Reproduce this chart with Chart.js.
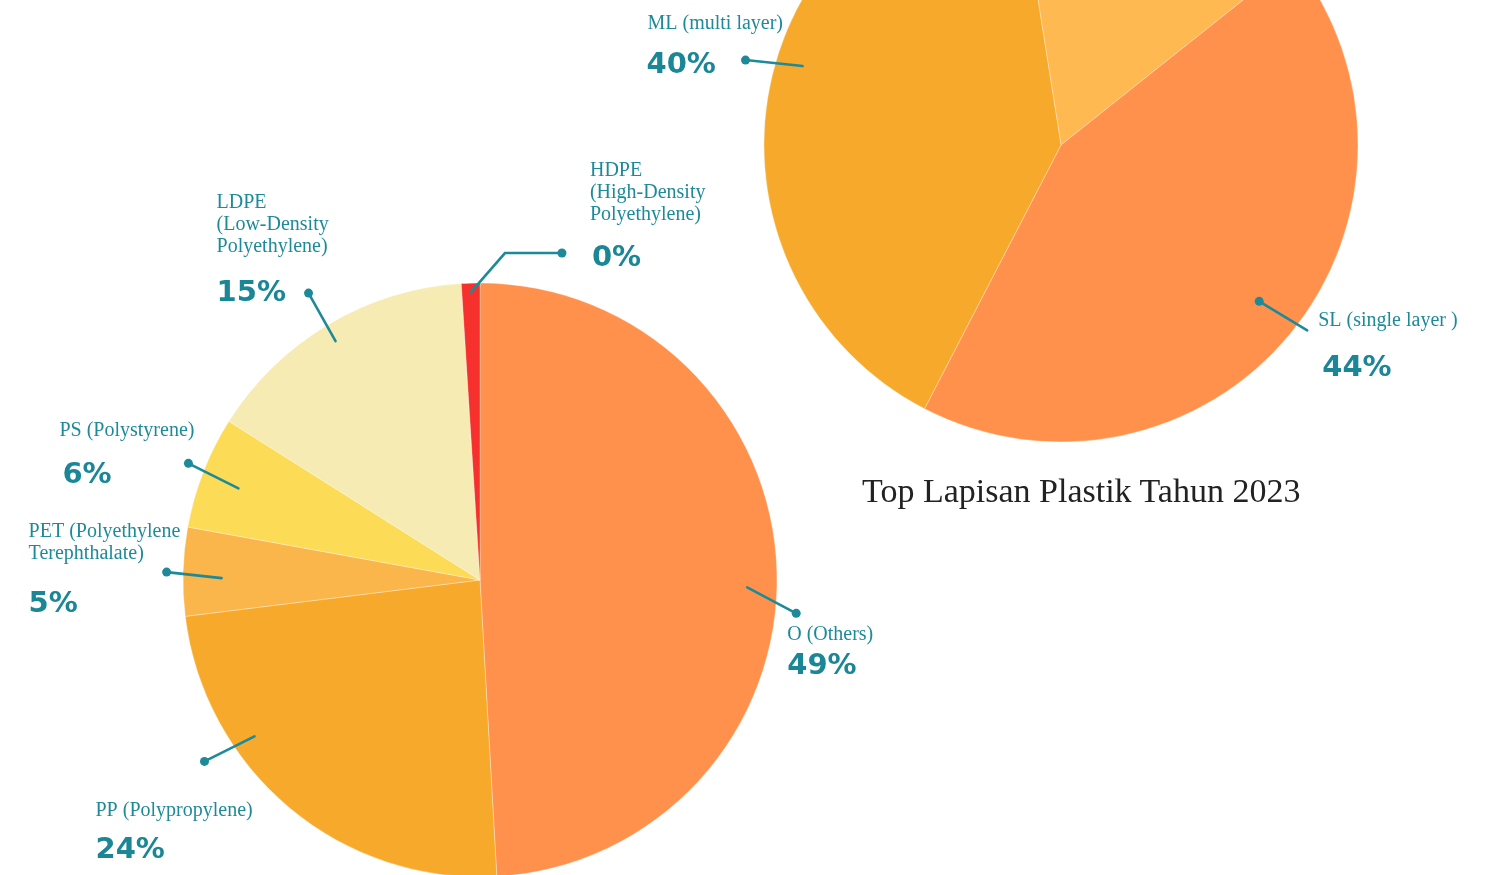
<!DOCTYPE html>
<html>
<head>
<meta charset="utf-8">
<script src="https://cdn.jsdelivr.net/npm/chart.js@4.4.1/dist/chart.umd.min.js"></script>
<style>
  html, body { margin: 0; padding: 0; background: #fff; overflow: hidden; width: 1488px; height: 875px; }
  .wrap { position: absolute; left: 0; width: 1488px; }
  #wrapPlastic { top: 0; height: 1160px; }
  #wrapLayer { top: -300px; height: 890px; }
  .title {
    position: absolute; left: 862px; top: 471px;
    font-family: 'Liberation Serif', serif; font-size: 34px; color: #222;
    white-space: nowrap; line-height: 40px;
  }
</style>
</head>
<body>
<div class="wrap" id="wrapPlastic"><canvas id="plasticChart"></canvas></div>
<div class="wrap" id="wrapLayer"><canvas id="layerChart"></canvas></div>
<div class="title">Top Lapisan Plastik Tahun 2023</div>

<script>
// data - jenis plastik
const plasticLabels = ['O (Others)', 'PP (Polypropylene)', 'PET (Polyethylene Terephthalate)', 'PS (Polystyrene)', 'LDPE (Low-Density Polyethylene)', 'HDPE (High-Density Polyethylene)'];
const plasticShare = [49.0, 23.9, 4.8, 6.1, 15.0, 1.0];
const plasticPctText = ['49%', '24%', '5%', '6%', '15%', '0%'];
const plasticColors = ['#FF914D', '#F6A92B', '#FBB64B', '#FCDB56', '#F6EBB2', '#F5302D'];

// data - lapisan plastik
const layerLabels = ['Lainnya', 'SL (single layer )', 'ML (multi layer)'];
const layerShare = [16.8, 43.3, 39.9];
const layerPctText = ['', '44%', '40%'];
const layerColors = ['#FFB950', '#FF914D', '#F6A92B'];

const TEAL = '#1E8A99';

// callout layout (offsets in px, angles in degrees relative to slice middle)
const plasticCallouts = [
  { i: 0, angOff: 3.2, rf: 0.90, dot: [49, 26], lines: ['O (Others)'], name: [-9, 27], pct: [-9, 61] },
  { i: 1, angOff: 15.4, rf: 0.924, dot: [-50, 25], lines: ['PP (Polypropylene)'], name: [-109, 55], pct: [-109, 97] },
  { i: 2, angOff: -1.2, rf: 0.87, dot: [-55, -6], lines: ['PET (Polyethylene', 'Terephthalate)'], name: [-138, -35], pct: [-138, 40] },
  { i: 3, angOff: -0.5, rf: 0.87, dot: [-50, -25], lines: ['PS (Polystyrene)'], name: [-129, -27], pct: [-126, 20] },
  { i: 4, angOff: -0.5, rf: 0.94, dot: [-27, -48], lines: ['LDPE', '(Low-Density', 'Polyethylene)'], name: [-92, -85], pct: [-92, 8] },
  { i: 5, angOff: 0, rf: 0.97, elbow: [34, -39], dot: [91, -39], lines: ['HDPE', '(High-Density', 'Polyethylene)'], name: [28, -77], pct: [30, 13] }
];

const layerCallouts = [
  { i: 2, angOff: 7.8, rf: 0.91, dot: [-57, -6], lines: ['ML (multi layer)'], name: [-98, -31], pct: [-99, 13] },
  { i: 1, angOff: -1.15, rf: 0.85, dot: [48, 29], dotAtAnchor: true, lines: ['SL (single layer )'], name: [11, -4], pct: [15, 46] }
];

const calloutPlugin = {
  id: 'callouts',
  afterDraw(chart, args, opts) {
    const ctx = chart.ctx;
    const meta = chart.getDatasetMeta(0);
    const pctText = opts.pctText;
    opts.items.forEach(function(c) {
      const arc = meta.data[c.i];
      const mid = (arc.startAngle + arc.endAngle) / 2 + c.angOff * Math.PI / 180;
      const ax = arc.x + Math.cos(mid) * arc.outerRadius * c.rf;
      const ay = arc.y + Math.sin(mid) * arc.outerRadius * c.rf;
      const dx = ax + c.dot[0];
      const dy = ay + c.dot[1];

      ctx.save();
      ctx.strokeStyle = TEAL;
      ctx.fillStyle = TEAL;
      ctx.lineWidth = 2.6;
      ctx.lineCap = 'round';
      ctx.beginPath();
      ctx.moveTo(ax, ay);
      if (c.elbow) ctx.lineTo(ax + c.elbow[0], ay + c.elbow[1]);
      ctx.lineTo(dx, dy);
      ctx.stroke();
      ctx.beginPath();
      if (c.dotAtAnchor) ctx.arc(ax, ay, 4.5, 0, Math.PI * 2);
      else ctx.arc(dx, dy, 4.5, 0, Math.PI * 2);
      ctx.fill();

      // name text
      ctx.textAlign = 'left';
      ctx.textBaseline = 'alphabetic';
      ctx.font = '20px "Liberation Serif", serif';
      c.lines.forEach(function(line, k) {
        ctx.fillText(line, dx + c.name[0], dy + c.name[1] + k * 22);
      });
      // percentage
      ctx.font = 'bold 29px "DejaVu Sans", sans-serif';
      ctx.fillStyle = '#1B8796';
      ctx.fillText(pctText[c.i], dx + c.pct[0], dy + c.pct[1]);
      ctx.restore();
    });
  }
};

function makePie(id, labels, values, colors, rotation, pad, callouts, pctText) {
  return new Chart(document.getElementById(id), {
    type: 'pie',
    data: {
      labels: labels,
      datasets: [{
        data: values,
        backgroundColor: colors,
        borderColor: 'rgba(255,255,255,0.3)',
        borderWidth: 1
      }]
    },
    options: {
      responsive: true,
      maintainAspectRatio: false,
      animation: false,
      rotation: rotation,
      radius: 297,
      layout: { padding: pad },
      events: [],
      plugins: {
        legend: { display: false },
        tooltip: { enabled: false },
        callouts: { items: callouts, pctText: pctText }
      }
    },
    plugins: [calloutPlugin]
  });
}

makePie('plasticChart', plasticLabels, plasticShare, plasticColors, 0,
  { left: 0, right: 528, top: 0, bottom: 0 }, plasticCallouts, plasticPctText);

makePie('layerChart', layerLabels, layerShare, layerColors, -9,
  { left: 634, right: 0, top: 0, bottom: 0 }, layerCallouts, layerPctText);
</script>
</body>
</html>
